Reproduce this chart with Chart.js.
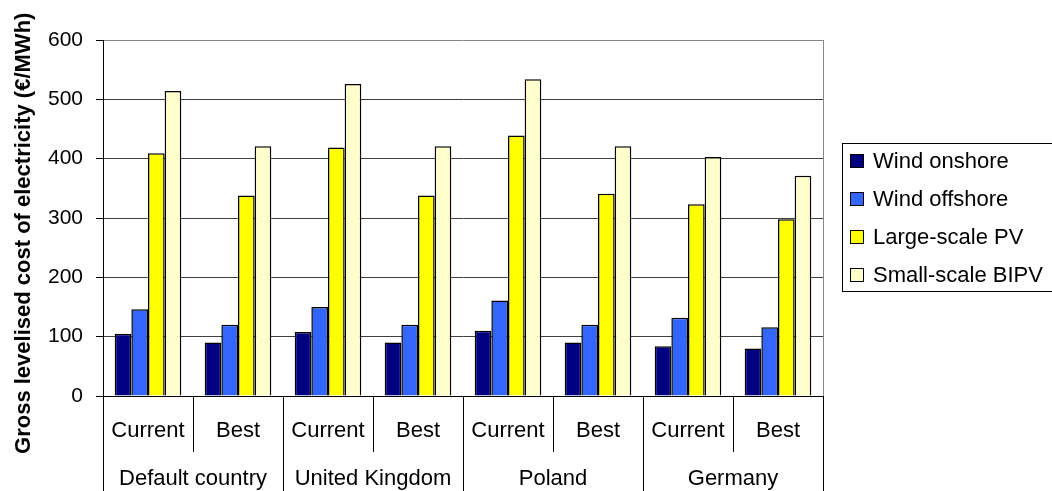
<!DOCTYPE html>
<html>
<head>
<meta charset="utf-8">
<script src="https://cdn.jsdelivr.net/npm/chart.js@4"></script>
<style>
   body { margin: 0; background: #fff; }
</style>
</head>
<body>
<canvas id="myChart" width="1052" height="491"></canvas>
<script>
const categories = ["Current", "Best", "Current", "Best", "Current", "Best", "Current", "Best"];
const countries = ["Default country", "United Kingdom", "Poland", "Germany"];
const seriesNames = ["Wind onshore", "Wind offshore", "Large-scale PV", "Small-scale BIPV"];
const windOnshore = [105, 90, 108, 90, 110, 90, 84, 80];
const windOffshore = [146, 120, 150, 120, 161, 120, 132, 116];
const largePV = [409, 338, 419, 338, 439, 341, 323, 298];
const smallBIPV = [514, 421, 526, 421, 534, 421, 403, 371];
const yTicks = [0, 100, 200, 300, 400, 500, 600];

Chart.defaults.font.family = "'Liberation Sans', Arial, sans-serif";
Chart.defaults.color = "#000";

const colors = ["#000080", "#3366ff", "#ffff00", "#ffffcc"];
const values = [windOnshore, windOffshore, largePV, smallBIPV];

// frame, category separators and the boxed legend on the right
const extras = {
   id: "extras",
   afterDraw(chart) {
      const ctx = chart.ctx;
      const area = chart.chartArea;
      const x = chart.scales.x;
      const x2 = chart.scales.x2;
      ctx.save();
      // right frame line
      ctx.strokeStyle = "#888";
      ctx.lineWidth = 1;
      ctx.beginPath();
      ctx.moveTo(Math.round(area.right) + 0.5, area.top);
      ctx.lineTo(Math.round(area.right) + 0.5, area.bottom);
      ctx.stroke();

      // separators below the axis
      ctx.strokeStyle = "#000";
      for (let i = 0; i <= categories.length; i++) {
         const px = Math.round(x.getPixelForValue(i - 0.5)) + 0.5;
         const bottom = i % 2 === 0 ? chart.height : x2.top;
         ctx.beginPath();
         ctx.moveTo(px, area.bottom);
         ctx.lineTo(px, bottom);
         ctx.stroke();
      }

      // legend
      const mid = (area.top + area.bottom) / 2;
      const lx = Math.round(area.right) + 19;
      ctx.strokeStyle = "#000";
      ctx.strokeRect(lx + 0.5, Math.round(mid - 75) + 0.5, chart.width, 148);
      ctx.font = "22px 'Liberation Sans', Arial, sans-serif";
      ctx.textBaseline = "middle";
      chart.data.datasets.forEach((ds, i) => {
         const cy = Math.round(mid + (i - 1.5) * 38);
         ctx.fillStyle = ds.backgroundColor;
         ctx.fillRect(lx + 8, cy - 7, 14, 14);
         ctx.strokeStyle = "#000";
         ctx.strokeRect(lx + 8.5, cy - 6.5, 13, 13);
         ctx.fillStyle = "#000";
         ctx.fillText(ds.label, lx + 31, cy + 1);
      });
      ctx.restore();
   },
};

const ctx = document.getElementById("myChart");
const myChart = new Chart(ctx, {
   type: "bar",
   data: {
      labels: categories,
      datasets: seriesNames.map((name, i) => ({
         label: name,
         data: values[i],
         backgroundColor: colors[i],
         borderColor: "#000",
         borderWidth: 1.5,
         borderSkipped: "bottom",
         categoryPercentage: 0.74,
         barPercentage: 1.0,
      })),
   },
   options: {
      responsive: false,
      animation: false,
      devicePixelRatio: 1,
      layout: {
         padding: { left: 0, top: 40, right: 229, bottom: 0 },
      },
      plugins: {
         legend: { display: false },
         tooltip: { enabled: false },
      },
      scales: {
         x: {
            type: "category",
            position: "bottom",
            weight: 0,
            offset: true,
            grid: { display: false },
            border: { display: true, color: "#000", width: 1 },
            ticks: {
               font: { size: 22 },
               color: "#000",
               padding: 14,
               maxRotation: 0,
               autoSkip: false,
            },
            afterFit(scale) {
               scale.height = 56;
            },
         },
         x2: {
            type: "category",
            position: "bottom",
            weight: 1,
            labels: countries,
            offset: true,
            grid: { display: false },
            border: { display: false },
            ticks: {
               font: { size: 22 },
               color: "#000",
               padding: 6,
               maxRotation: 0,
               autoSkip: false,
            },
            afterFit(scale) {
               scale.height = 39;
            },
         },
         y: {
            min: 0,
            max: 600,
            afterBuildTicks(scale) {
               scale.ticks = yTicks.map((v) => ({ value: v }));
            },
            ticks: {
               font: { size: 21 },
               color: "#000",
               padding: 13,
            },
            grid: {
               color: (c) => (c.tick && c.tick.value === 600 ? "#888" : "#404040"),
               tickColor: "#000",
               tickLength: 7,
               lineWidth: 1,
            },
            border: { display: true, color: "#000", width: 1 },
            title: {
               display: true,
               text: "Gross levelised cost of electricity (€/MWh)     ",
               font: { size: 22, weight: "bold" },
               color: "#000",
               padding: { top: 11, bottom: 0 },
            },
            afterFit(scale) {
               scale.width = 103;
            },
         },
      },
   },
   plugins: [extras],
});
</script>
</body>
</html>
